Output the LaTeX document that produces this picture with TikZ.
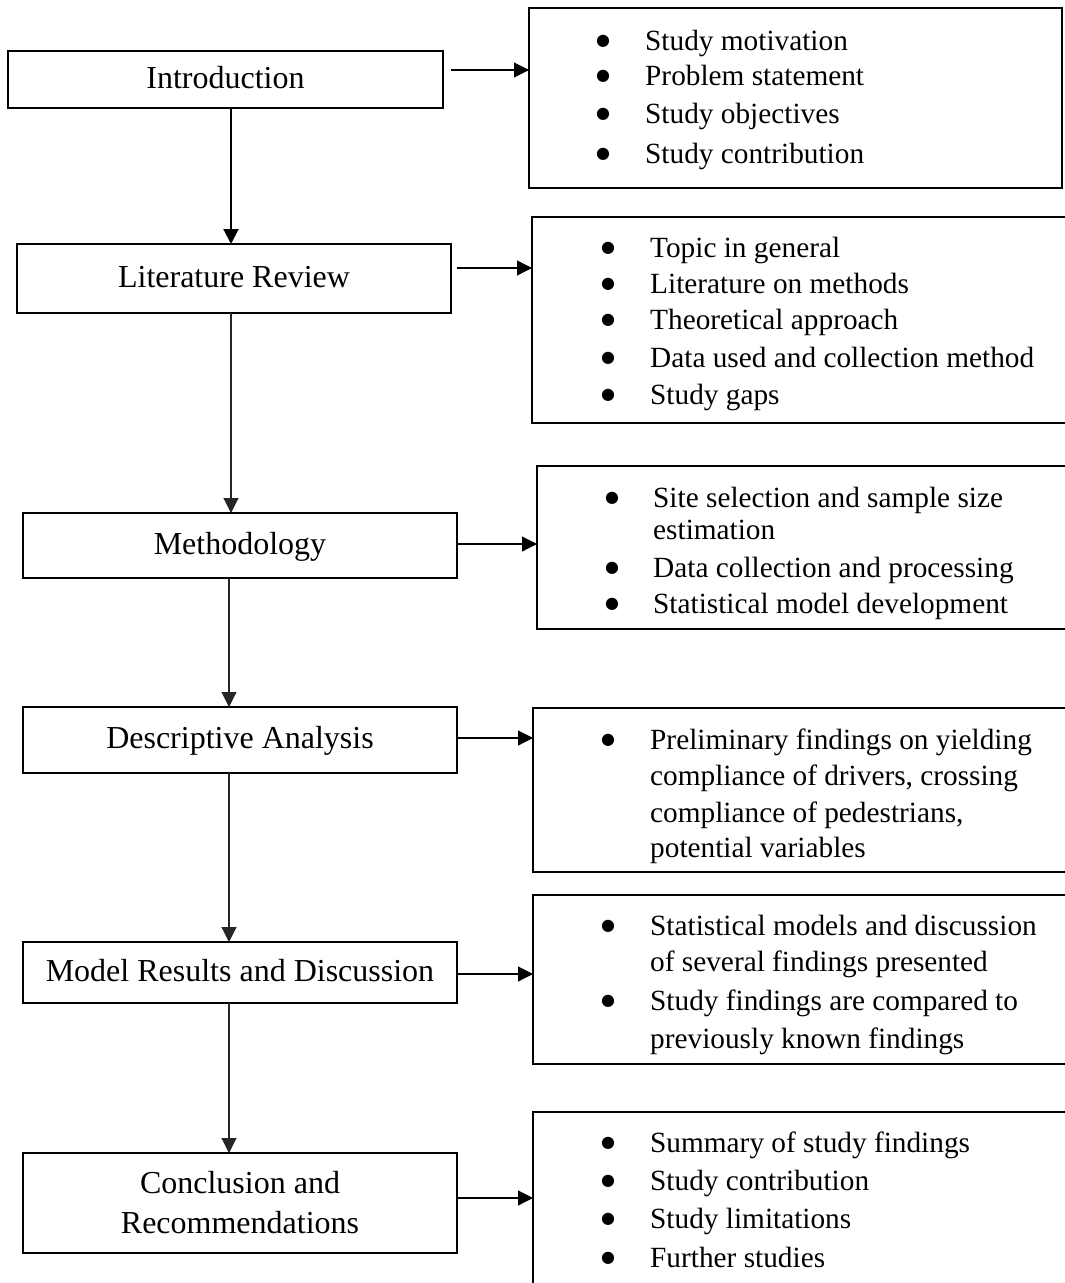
\documentclass[tikz,border=0pt]{standalone}
\usepackage{fontspec}
\setmainfont{Liberation Serif}
\newfontfamily\bulfont{DejaVu Sans}
\usetikzlibrary{arrows.meta,calc}
\begin{document}
\begin{tikzpicture}[x=1pt,y=-1pt,
  lbox/.style={draw,line width=1.5pt,inner sep=0pt,outer sep=0pt,font=\fontsize{32}{40}\selectfont},
  oneline/.style={text height=22.4pt,text depth=4.8pt},
  rbox/.style={draw,line width=1.5pt,inner sep=0pt,outer sep=0pt,anchor=north west},
  rt/.style={inner sep=0pt,anchor=base west,font=\fontsize{29.3}{36}\selectfont},
  bul/.style={inner sep=0pt,anchor=center,yshift=8.5pt,font=\bulfont\fontsize{16}{18}\selectfont},
  harr/.style={line width=1.1pt,-{Triangle[length=15pt,width=15pt]}},
  varr/.style={line width=1.1pt,black!85,-{Triangle[length=15pt,width=15pt]}},
  varrb/.style={line width=2pt,-{Triangle[length=15pt,width=15pt]}}
]
\useasboundingbox (0,0) rectangle (1065,1283);
\fill[white] (0,0) rectangle (1065,1283);
\clip (0,0) rectangle (1065,1283);

% left boxes
\node[lbox,oneline,minimum width=435pt,minimum height=57pt] (intro) at (225.5,79.5) {Introduction};
\node[lbox,oneline,minimum width=434pt,minimum height=69pt] (lit) at (234,278.5) {Literature Review};
\node[lbox,oneline,minimum width=434pt,minimum height=65pt] (meth) at (240,545.5) {Methodology};
\node[lbox,oneline,minimum width=434pt,minimum height=66pt] (desc) at (240,740) {Descriptive Analysis};
\node[lbox,oneline,minimum width=434pt,minimum height=61pt] (model) at (240,972.5) {Model Results and Discussion};
\node[lbox,align=center,minimum width=434pt,minimum height=100pt] (concl) at (240,1203) {Conclusion and\\Recommendations};

% right boxes
\node[rbox,minimum width=533pt,minimum height=180pt] (b1) at (529,8) {};
\node[rbox,minimum width=543pt,minimum height=206pt] (b2) at (532,217) {};
\node[rbox,minimum width=538pt,minimum height=163pt] (b3) at (537,466) {};
\node[rbox,minimum width=542pt,minimum height=164pt] (b4) at (533,708) {};
\node[rbox,minimum width=542pt,minimum height=169pt] (b5) at (533,895) {};
\node[rbox,minimum width=542pt,minimum height=190pt] (b6) at (533,1112) {};

% box 1
\node[bul] (u11) at (603,50) {●};
\node[rt] (t11) at (645,50) {Study motivation};
\node[bul] (u12) at (603,85) {●};
\node[rt] (t12) at (645,85) {Problem statement};
\node[bul] (u13) at (603,123) {●};
\node[rt] (t13) at (645,123) {Study objectives};
\node[bul] (u14) at (603,163) {●};
\node[rt] (t14) at (645,163) {Study contribution};

% box 2
\node[bul] (u21) at (608,257) {●};
\node[rt] (t21) at (650,257) {Topic in general};
\node[bul] (u22) at (608,293) {●};
\node[rt] (t22) at (650,293) {Literature on methods};
\node[bul] (u23) at (608,329) {●};
\node[rt] (t23) at (650,329) {Theoretical approach};
\node[bul] (u24) at (608,367) {●};
\node[rt] (t24) at (650,367) {Data used and collection method};
\node[bul] (u25) at (608,404) {●};
\node[rt] (t25) at (650,404) {Study gaps};

% box 3
\node[bul] (u31) at (612,507) {●};
\node[rt] (t31) at (653,507) {Site selection and sample size};
\node[rt] (t32) at (653,539) {estimation};
\node[bul] (u33) at (612,577) {●};
\node[rt] (t33) at (653,577) {Data collection and processing};
\node[bul] (u34) at (612,613) {●};
\node[rt] (t34) at (653,613) {Statistical model development};

% box 4
\node[bul] (u41) at (608,749) {●};
\node[rt] (t41) at (650,749) {Preliminary findings on yielding};
\node[rt] (t42) at (650,785) {compliance of drivers, crossing};
\node[rt] (t43) at (650,822) {compliance of pedestrians,};
\node[rt] (t44) at (650,857) {potential variables};

% box 5
\node[bul] (u51) at (608,935) {●};
\node[rt] (t51) at (650,935) {Statistical models and discussion};
\node[rt] (t52) at (650,971) {of several findings presented};
\node[bul] (u53) at (608,1010) {●};
\node[rt] (t53) at (650,1010) {Study findings are compared to};
\node[rt] (t54) at (650,1048) {previously known findings};

% box 6
\node[bul] (u61) at (608,1152) {●};
\node[rt] (t61) at (650,1152) {Summary of study findings};
\node[bul] (u62) at (608,1190) {●};
\node[rt] (t62) at (650,1190) {Study contribution};
\node[bul] (u63) at (608,1228) {●};
\node[rt] (t63) at (650,1228) {Study limitations};
\node[bul] (u64) at (608,1267) {●};
\node[rt] (t64) at (650,1267) {Further studies};

% horizontal arrows
\draw[harr] ($(intro.east)+(8,-9.5)$) -- ($(b1.west)+(0,-28)$);
\draw[harr] ($(lit.east)+(6,-10.5)$) -- (b2.west |- 0,268);
\draw[harr] ($(meth.east)+(0,-1.5)$) -- (b3.west |- 0,544);
\draw[harr] ($(desc.east)+(0,-2)$) -- (b4.west |- 0,738);
\draw[harr] ($(model.east)+(0,1.5)$) -- (b5.west |- 0,974);
\draw[harr] ($(concl.east)+(0,-5)$) -- (b6.west |- 0,1198);

% vertical arrows
\draw[varrb] ($(intro.south)+(5.5,0)$) -- ($(lit.north)+(-3,0)$);
\draw[varr] ($(lit.south)+(-3,0)$) -- ($(meth.north)+(-9,0)$);
\draw[varr] ($(meth.south)+(-11,0)$) -- ($(desc.north)+(-11,0)$);
\draw[varr] ($(desc.south)+(-11,0)$) -- ($(model.north)+(-11,0)$);
\draw[varr] ($(model.south)+(-11,0)$) -- ($(concl.north)+(-11,0)$);
\end{tikzpicture}
\end{document}
